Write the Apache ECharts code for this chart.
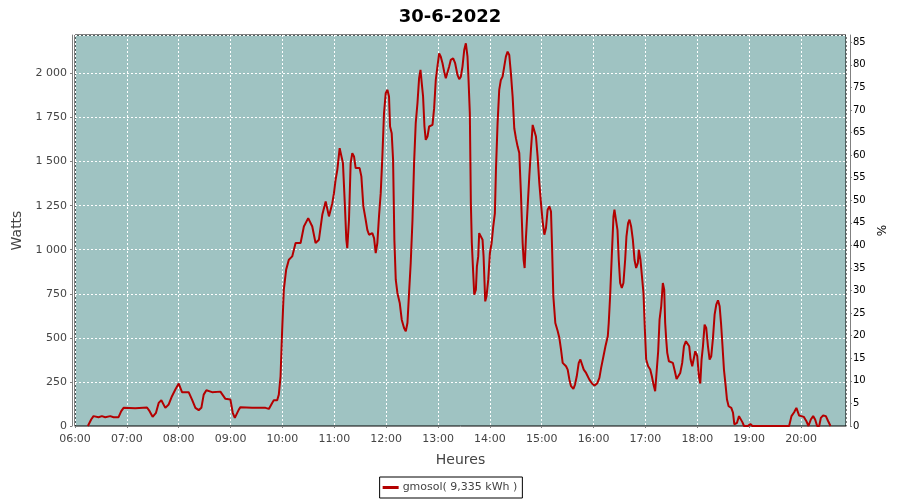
<!DOCTYPE html>
<html>
<head>
<meta charset="utf-8">
<script src="https://cdn.jsdelivr.net/npm/echarts@6/dist/echarts.min.js"></script>
<style>html,body{margin:0;padding:0;background:#fff;}#c{width:900px;height:500px;}</style>
</head>
<body>
<div id="c"></div>
<script>
// Time of each reading, minutes since midnight
const minutes = [
374.9,378.7,381.4,387.2,391.1,395.0,400.8,404.6,410.4,413.5,416.2,429.7,443.3,446.3,449.8,453.7,456.8,459.9,464.5,468.4,
472.2,476.1,480.0,483.8,491.5,495.4,499.3,503.1,506.2,508.9,512.0,518.6,528.2,534.0,539.8,542.5,544.9,549.5,551.4,564.9,
580.4,584.3,588.1,590.0,593.9,595.8,597.8,599.7,601.6,604.3,607.4,611.3,615.2,621.0,624.8,629.8,634.5,638.3,642.2,646.1,
650.0,653.8,655.7,657.7,659.6,661.5,663.5,666.2,668.1,670.0,672.3,673.9,675.0,677.0,678.9,680.8,682.8,684.7,686.6,689.3,
691.3,693.6,696.3,698.2,700.2,704.0,706.0,707.9,709.8,711.7,713.7,715.6,717.5,719.5,721.4,723.3,724.5,726.4,728.0,729.5,
731.1,733.0,735.7,738.0,740.7,742.7,744.6,746.5,748.4,750.4,752.3,754.2,756.2,758.1,759.7,761.2,762.7,764.3,765.8,767.8,
769.7,773.6,775.5,777.4,779.3,781.3,783.2,785.2,787.1,789.0,791.0,792.9,794.8,797.5,799.8,802.5,804.5,806.4,808.3,810.3,
812.2,814.1,815.3,816.8,818.0,819.1,820.7,821.9,823.8,825.0,826.5,827.6,829.6,831.5,832.7,834.6,836.1,838.1,840.0,842.0,
843.9,845.8,847.0,848.9,850.8,852.7,854.7,856.6,858.5,860.5,862.4,864.3,866.3,868.2,870.1,872.1,874.0,875.9,877.9,879.0,
880.2,881.7,883.7,885.6,887.5,889.5,891.4,893.3,895.2,897.2,899.1,901.0,903.0,904.9,906.8,908.8,910.7,911.9,913.4,915.7,
918.5,920.4,922.3,924.2,928.1,930.0,932.0,933.9,936.6,938.5,940.5,942.8,944.7,946.6,948.6,951.3,955.1,958.2,960.9,964.0,
966.7,968.7,971.4,973.7,976.4,977.5,979.1,981.0,983.0,984.1,986.0,987.6,989.1,990.7,992.6,994.5,996.5,998.0,999.9,1001.5,
1003.4,1005.4,1007.3,1009.2,1011.2,1012.3,1014.2,1016.2,1017.7,1019.3,1020.8,1023.1,1025.5,1027.4,1029.3,1031.2,1033.2,1034.7,1036.3,1038.2,
1040.1,1041.7,1042.8,1044.0,1045.2,1047.1,1049.4,1051.7,1054.0,1056.0,1058.3,1060.2,1062.5,1064.5,1066.8,1068.7,1070.6,1072.2,1074.1,1075.7,
1077.6,1078.8,1079.9,1081.8,1083.4,1084.9,1086.5,1088.4,1090.3,1092.3,1094.2,1096.1,1098.1,1100.0,1101.9,1103.9,1105.8,1107.4,1108.9,1110.8,
1112.8,1114.3,1116.2,1119.3,1121.3,1122.8,1124.0,1125.9,1128.2,1130.1,1132.1,1134.0,1138.6,1141.3,1143.7,1186.2,1188.9,1192.0,1194.6,1197.7,
1200.5,1203.1,1206.2,1208.6,1211.3,1214.0,1216.3,1218.6,1221.0,1222.9,1225.6,1228.7,1231.4,1234.1
];
// Power, watts
const watts = [
0,37,56,50,56,50,56,50,50,84,103,101,105,84,52,75,131,146,103,122,
169,207,241,192,192,150,103,90,103,178,203,192,195,154,150,75,46,93,107,103,
103,97,131,146,146,178,282,547,773,887,943,962,1038,1038,1132,1179,1132,1038,1057,1198,
1274,1189,1189,1264,1321,1397,1453,1576,1585,1491,1246,1057,1009,1170,1491,1548,1529,1463,1453,1463,
1416,1246,1170,1113,1085,1094,1066,981,1038,1189,1321,1529,1774,1888,1907,1869,1699,1661,1510,1057,
830,755,698,603,556,537,584,755,925,1161,1491,1718,1831,1973,2020,1944,1869,1699,1623,1642,
1699,1708,1803,1963,2039,2114,2095,2058,2010,1973,1982,2039,2077,2086,2058,1992,1967,1982,2039,2133,
2171,2095,1963,1774,1264,1038,868,745,773,906,962,1094,1104,1057,962,707,736,830,981,1038,
1132,1208,1453,1718,1907,1963,1982,2039,2095,2124,2105,2001,1869,1689,1633,1585,1548,1321,1038,943,
896,1066,1246,1416,1567,1708,1699,1642,1529,1378,1264,1161,1085,1123,1227,1246,1217,1019,736,584,
537,499,433,358,339,320,263,226,211,235,282,358,377,377,320,301,263,241,229,241,
273,330,396,452,509,584,736,962,1189,1227,1217,1113,943,811,783,811,943,1076,1151,1170,
1132,1057,943,896,925,1000,943,943,754,547,377,339,320,282,235,197,197,424,603,679,
811,773,584,490,415,367,377,358,311,267,273,301,358,452,481,481,452,377,339,377,
424,433,396,282,241,377,452,575,556,452,377,396,499,632,688,713,679,584,471,320,
226,150,112,103,75,9,0,18,56,46,22,0,0,12,0,0,56,78,103,60,
56,52,27,0,37,56,37,0,0,46,60,56,27,0
];
const title = '30-6-2022';
const seriesName = 'gmosol( 9,335 kWh )';
const xName = 'Heures';
const yName = 'Watts';
const y2Name = '%';

const data = minutes.map((m, i) => [m, watts[i]]);
const fmtHM = v => {
  const h = Math.floor(v / 60), m = Math.round(v - h * 60);
  return String(h).padStart(2, '0') + ':' + String(m).padStart(2, '0');
};
const fmtW = v => String(v).replace(/\B(?=(\d{3})+(?!\d))/g, '\u00a0');
const FONT = 'DejaVu Sans';
const TXT = '#444444';
const AX = '#808080';

const chart = echarts.init(document.getElementById('c'), null, {renderer: 'canvas'});
chart.setOption({
  animation: false,
  backgroundColor: '#ffffff',
  title: {
    text: title, left: 'center', top: 3,
    textStyle: {fontFamily: FONT, fontSize: 18, fontWeight: 'bold', color: '#000'}
  },
  grid: {
    left: 75, right: 54, top: 35, bottom: 74,
    show: true, backgroundColor: '#9FC3C2', borderColor: '#000', borderWidth: 1
  },
  legend: {
    bottom: 2, left: 'center',
    data: [{name: seriesName, icon: 'rect'}],
    itemWidth: 16, itemHeight: 3, itemGap: 4,
    borderColor: '#000', borderWidth: 1, padding: [5, 5, 5, 3],
    textStyle: {fontFamily: FONT, fontSize: 11, color: TXT, padding: [0, 0, 0, -1]}
  },
  xAxis: {
    type: 'value', min: 360, max: 1252, interval: 60,
    offset: 4,
    name: xName, nameLocation: 'middle', nameGap: 23,
    nameTextStyle: {fontFamily: FONT, fontSize: 14, color: TXT},
    axisLine: {show: true, lineStyle: {color: AX}},
    axisTick: {show: true, length: 2, lineStyle: {color: AX}},
    axisLabel: {formatter: fmtHM, fontFamily: FONT, fontSize: 11, color: TXT, margin: 4, showMaxLabel: false},
    splitLine: {show: true, lineStyle: {color: '#ffffff', type: [2, 2], width: 1}}
  },
  yAxis: [{
    type: 'value', min: 0, max: 2218, interval: 250, position: 'left',
    offset: 3,
    name: yName, nameLocation: 'middle', nameGap: 41,
    nameTextStyle: {fontFamily: FONT, fontSize: 14, color: TXT},
    axisLine: {show: true, lineStyle: {color: AX}},
    axisTick: {show: true, length: 2, lineStyle: {color: AX}},
    axisLabel: {formatter: fmtW, fontFamily: FONT, fontSize: 11, color: TXT, margin: 5, showMaxLabel: false},
    splitLine: {show: true, lineStyle: {color: '#ffffff', type: [2, 2], width: 1}}
  }, {
    type: 'value', min: 0, max: 86.6, interval: 5, position: 'right',
    offset: 4,
    name: y2Name, nameLocation: 'middle', nameGap: 22,
    nameTextStyle: {fontFamily: FONT, fontSize: 12, color: '#000'},
    axisLine: {show: true, lineStyle: {color: AX}},
    axisTick: {show: true, length: 2, lineStyle: {color: AX}},
    axisLabel: {fontFamily: FONT, fontSize: 10, color: '#000', margin: 3, showMaxLabel: false},
    splitLine: {show: false}
  }],
  series: [{
    name: seriesName, type: 'line', yAxisIndex: 0,
    data: data, showSymbol: false, symbol: 'none',
    lineStyle: {color: '#B40000', width: 2},
    itemStyle: {color: '#B40000'}
  }]
});
</script>
</body>
</html>
